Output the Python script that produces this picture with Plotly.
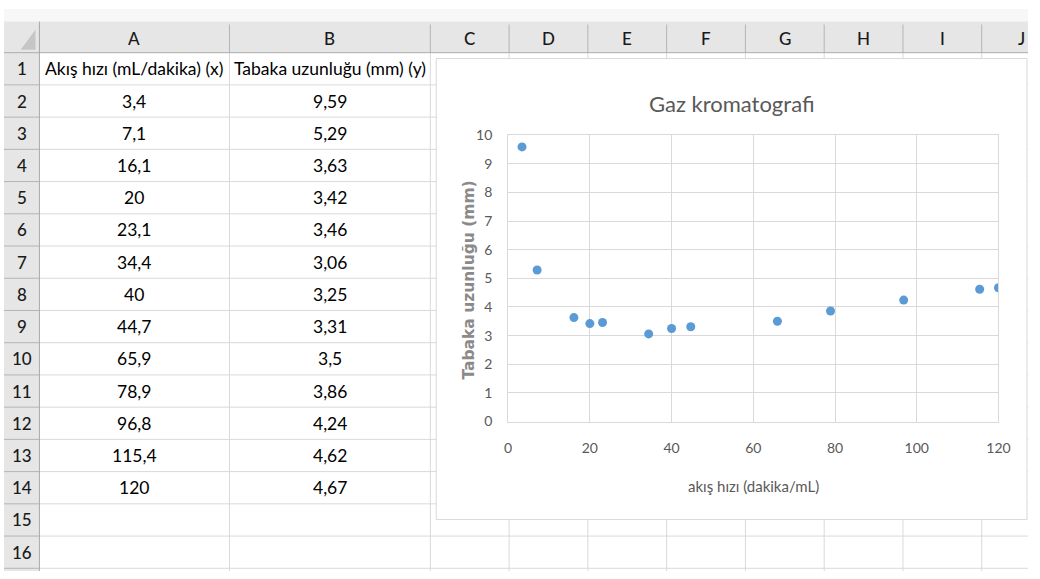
import plotly.graph_objects as go

# ---- data (read from the sheet / chart) ----
flow_rate = [3.4, 7.1, 16.1, 20, 23.1, 34.4, 40, 44.7, 65.9, 78.9, 96.8, 115.4, 120]
plate_height = [9.59, 5.29, 3.63, 3.42, 3.46, 3.06, 3.25, 3.31, 3.5, 3.86, 4.24, 4.62, 4.67]
col_letters = ["A", "B", "C", "D", "E", "F", "G", "H", "I", "J"]
header_x = "Akış hızı (mL/dakika) (x)"
header_y = "Tabaka uzunluğu (mm) (y)"
chart_title = "Gaz kromatografi"
x_title = "akış hızı (dakika/mL)"
y_title = "Tabaka uzunluğu (mm)"
n_rows = 16

W, H = 1040, 579
CELL_FONT = "Lato, Carlito, Calibri, sans-serif"


def px(x):
    return x / W


def py(y):
    return 1 - y / H


def fmt(v):
    return f"{v:g}".replace(".", ",")


# sheet geometry
col_bounds = [0, 36, 229, 433, 513, 593, 673, 753, 833, 913, 993, 1073]
head_top, head_bot = 13, 45
row_h = 33.2
row_bounds = [head_bot + row_h * i for i in range(n_rows + 1)]

shapes = []
annotations = []


def rect(x0, y0, x1, y1, fill, line=None, lw=0):
    shapes.append(dict(type="rect", xref="paper", yref="paper", layer="below",
                       x0=px(x0), x1=px(x1), y0=py(y1), y1=py(y0),
                       fillcolor=fill, line=dict(color=line or fill, width=lw)))


def line(x0, y0, x1, y1, color, lw=1):
    shapes.append(dict(type="line", xref="paper", yref="paper", layer="below",
                       x0=px(x0), x1=px(x1), y0=py(y0), y1=py(y1),
                       line=dict(color=color, width=lw)))


def text(x, y, s, size, color="#000000", family=CELL_FONT, angle=0, weight=None):
    f = dict(family=family, size=size, color=color)
    if weight:
        f["weight"] = weight
    annotations.append(dict(xref="paper", yref="paper", x=px(x), y=py(y), text=s,
                            showarrow=False, xanchor="center", yanchor="middle",
                            textangle=angle, font=f))


# header backgrounds
rect(0, 0, W, head_top, "#f7f7f7")
rect(0, head_top, W, head_bot, "#e6e6e6")
rect(0, head_bot, col_bounds[1], H, "#e6e6e6")
# corner triangle
shapes.append(dict(type="path", xref="paper", yref="paper", layer="below",
                   path=f"M {px(32)} {py(21)} L {px(32)} {py(42)} L {px(17)} {py(42)} Z",
                   fillcolor="#c6c6c6", line=dict(width=0)))
# cell grid
for yb in row_bounds[1:]:
    line(col_bounds[1], yb, W, yb, "#d9d9d9")
for xb in col_bounds[2:]:
    if xb < W:
        line(xb, head_bot, xb, H, "#d9d9d9")
# header separators
for xb in col_bounds[1:]:
    if xb < W:
        line(xb, head_top + 3, xb, head_bot, "#b4b4b4")
for yb in row_bounds[1:]:
    line(0, yb, col_bounds[1], yb, "#b4b4b4")
line(0, head_bot, W, head_bot, "#ababab")
line(col_bounds[1], head_top, col_bounds[1], H, "#ababab")

# column letters
for i, c in enumerate(col_letters):
    text((col_bounds[i + 1] + col_bounds[i + 2]) / 2, (head_top + head_bot) / 2 + 1, c, 17,
         "#1a1a1a", weight=500)
# row numbers
for r in range(n_rows):
    text(col_bounds[1] / 2, (row_bounds[r] + row_bounds[r + 1]) / 2, str(r + 1), 17,
         "#1a1a1a", weight=500)

# table contents
cxA = (col_bounds[1] + col_bounds[2]) / 2
cxB = (col_bounds[2] + col_bounds[3]) / 2
text(cxA, (row_bounds[0] + row_bounds[1]) / 2, header_x, 17.5)
text(cxB, (row_bounds[0] + row_bounds[1]) / 2, header_y, 17.5)
for i, (xv, yv) in enumerate(zip(flow_rate, plate_height)):
    cy = (row_bounds[i + 1] + row_bounds[i + 2]) / 2
    text(cxA, cy, fmt(xv), 17.5)
    text(cxB, cy, fmt(yv), 17.5)

# chart area
ch_x0, ch_y0, ch_x1, ch_y1 = 439, 51, 1039, 526
rect(ch_x0, ch_y0, ch_x1, ch_y1, "#ffffff", "#d9d9d9", 1)
pl_x0, pl_y0, pl_x1, pl_y1 = 512, 130, 1010, 425

text((ch_x0 + ch_x1) / 2, 97, chart_title, 22, "#595959")
text((pl_x0 + pl_x1) / 2, 491, x_title, 15, "#595959")
text(472, 279, y_title, 15.5, "#8a8a8a", family="DejaVu Sans", angle=-90, weight="bold")

fig = go.Figure()
fig.add_trace(go.Scatter(x=flow_rate, y=plate_height, mode="markers",
                         marker=dict(color="#5b9bd5", size=9), showlegend=False))

axis_font = dict(family=CELL_FONT, size=14, color="#595959")
fig.update_layout(
    width=W, height=H,
    margin=dict(l=0, r=0, t=0, b=0, pad=0),
    paper_bgcolor="#ffffff", plot_bgcolor="rgba(0,0,0,0)",
    shapes=shapes, annotations=annotations,
    xaxis=dict(domain=[px(pl_x0), px(pl_x1)], range=[0, 120], dtick=20, tick0=0,
               showgrid=True, gridcolor="#d9d9d9", gridwidth=1, zeroline=False,
               showline=True, linecolor="#d9d9d9", mirror=True,
               ticks="", ticklabelstandoff=14, tickfont=axis_font),
    yaxis=dict(domain=[py(pl_y1), py(pl_y0)], range=[0, 10], dtick=1, tick0=0,
               showgrid=True, gridcolor="#d9d9d9", gridwidth=1, zeroline=False,
               showline=True, linecolor="#d9d9d9", mirror=True,
               ticks="", ticklabelstandoff=12, tickfont=axis_font),
)

fig.write_html("out.html")
